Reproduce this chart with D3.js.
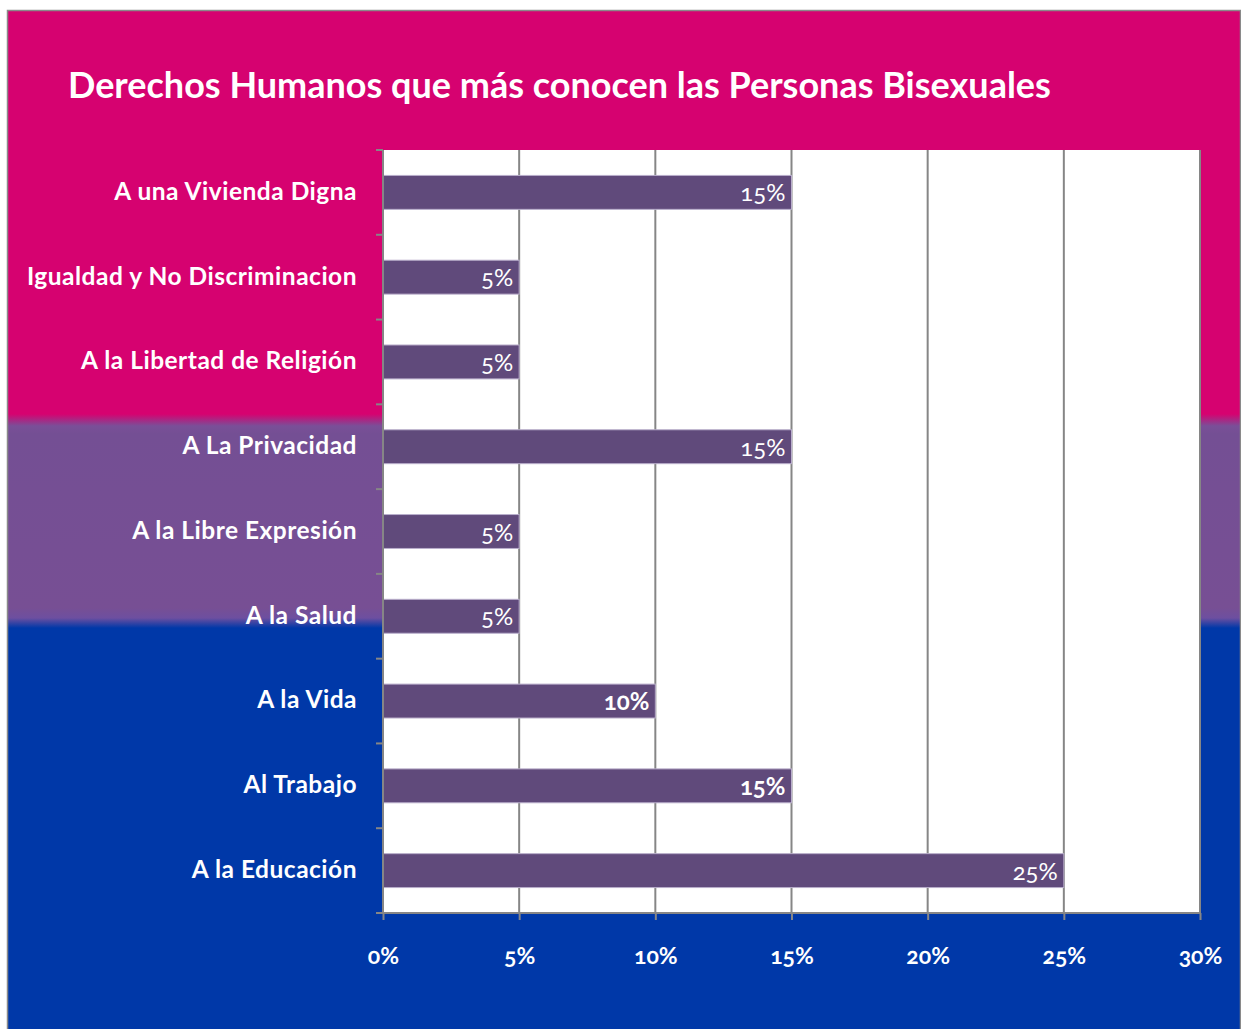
<!DOCTYPE html>
<html>
<head>
<meta charset="utf-8">
<script src="https://cdn.jsdelivr.net/npm/d3@7"></script>
<style>
  body { margin: 0; background: #fff; }
  text { font-family: Lato, "Open Sans", sans-serif; }
</style>
</head>
<body>
<div class="chart"></div>
<script>
// datos del grafico
var categories = ['A una Vivienda Digna', 'Igualdad y No Discriminacion', 'A la Libertad de Religión',
    'A La Privacidad', 'A la Libre Expresión', 'A la Salud', 'A la Vida', 'Al Trabajo', 'A la Educación'];
var values = [0.15, 0.05, 0.05, 0.15, 0.05, 0.05, 0.10, 0.15, 0.25];
var labelBold = [false, false, false, false, false, false, true, true, false];
var xTicks = [0, 0.05, 0.10, 0.15, 0.20, 0.25, 0.30];
var title = 'Derechos Humanos que más conocen las Personas Bisexuales';

var width = 1241,
    height = 1029,
    plotLeft = 383, plotRight = 1200, plotTop = 150, plotBottom = 913;

var svg = d3.select('.chart').append('svg')
    .attr('width', width)
    .attr('height', height);

// fondo bandera bisexual
var grad = svg.append('defs').append('linearGradient')
    .attr('id', 'flag')
    .attr('gradientUnits', 'userSpaceOnUse')
    .attr('x1', 0).attr('y1', 0).attr('x2', 0).attr('y2', height);
[[0, '#d60270'], [414, '#d60270'], [426, '#7a4f98'], [434, '#744f94'],
 [608, '#774f94'], [618, '#6d4fa0'], [628, '#0038a8'], [1029, '#0038a8']].forEach(function (s) {
    grad.append('stop').attr('offset', s[0] / height).attr('stop-color', s[1]);
});

svg.append('rect')
    .attr('x', 7.5).attr('y', 10.5)
    .attr('width', 1233).attr('height', 1040)
    .style('fill', 'url(#flag)')
    .style('stroke', '#8a8a8a')
    .style('stroke-width', 1.5);

svg.append('text')
    .attr('x', 68).attr('y', 98)
    .style('fill', '#fff')
    .style('font-size', '36px')
    .style('font-weight', 'bold')
    .text(title);

var x = d3.scaleLinear().domain([0, 0.30]).range([plotLeft, plotRight]);
var y = d3.scaleBand().domain(categories).range([plotTop, plotBottom])
    .paddingInner(0.6).paddingOuter(0.3);

// area de trazado
svg.append('rect')
    .attr('x', plotLeft).attr('y', plotTop)
    .attr('width', plotRight - plotLeft).attr('height', plotBottom - plotTop)
    .style('fill', '#fff');

// lineas de division
svg.append('g').selectAll('line')
    .data(xTicks.slice(1))
    .enter().append('line')
    .attr('x1', function (d) { return x(d); })
    .attr('x2', function (d) { return x(d); })
    .attr('y1', plotTop).attr('y2', plotBottom)
    .style('stroke', '#868686')
    .style('stroke-width', 2);

svg.append('g').selectAll('rect')
    .data(values)
    .enter().append('rect')
    .attr('x', x(0))
    .attr('y', function (d, i) { return y(categories[i]); })
    .attr('width', function (d) { return x(d) - x(0); })
    .attr('height', y.bandwidth())
    .style('fill', '#604a7b')
    .style('stroke', '#b9aecb')
    .style('stroke-width', 1);

svg.append('g').selectAll('text')
    .data(values)
    .enter().append('text')
    .attr('x', function (d) { return x(d) - 6; })
    .attr('y', function (d, i) { return y(categories[i]) + y.bandwidth() / 2 + 9; })
    .attr('text-anchor', 'end')
    .style('fill', '#fff')
    .style('font-size', '24px')
    .style('font-weight', function (d, i) { return labelBold[i] ? 'bold' : 'normal'; })
    .style('font-feature-settings', '"onum"')
    .text(function (d) { return Math.round(d * 100) + '%'; });

// eje vertical
var yAxis = d3.axisLeft(y).tickSize(0).tickPadding(26);
var gy = svg.append('g')
    .attr('transform', 'translate(' + plotLeft + ',0)')
    .call(yAxis);
gy.select('.domain').remove();
gy.selectAll('text')
    .attr('dy', '0.3em')
    .style('fill', '#fff')
    .style('font-size', '24.5px')
    .style('letter-spacing', '0.5px')
    .style('font-weight', 'bold');

var bounds = d3.range(categories.length + 1).map(function (i) {
    return plotTop + i * (plotBottom - plotTop) / categories.length;
});
svg.append('g').selectAll('line')
    .data(bounds)
    .enter().append('line')
    .attr('x1', plotLeft - 7).attr('x2', plotLeft)
    .attr('y1', function (d) { return d; })
    .attr('y2', function (d) { return d; })
    .style('stroke', '#868686')
    .style('stroke-width', 2);
svg.append('line')
    .attr('x1', plotLeft).attr('x2', plotLeft)
    .attr('y1', plotTop).attr('y2', plotBottom)
    .style('stroke', '#868686')
    .style('stroke-width', 2);

// eje horizontal
var xAxis = d3.axisBottom(x).tickValues(xTicks).tickSize(7).tickPadding(28)
    .tickFormat(function (d) { return Math.round(d * 100) + '%'; });
var gx = svg.append('g')
    .attr('transform', 'translate(0,' + plotBottom + ')')
    .call(xAxis);
gx.select('.domain').attr('d', 'M' + plotLeft + ',0H' + plotRight)
    .style('stroke', '#868686').style('stroke-width', 2);
gx.selectAll('.tick line').style('stroke', '#868686').style('stroke-width', 2);
gx.selectAll('text')
    .style('fill', '#fff')
    .style('font-size', '23px')
    .style('font-weight', 'bold')
    .style('font-feature-settings', '"onum"');
</script>
</body>
</html>
